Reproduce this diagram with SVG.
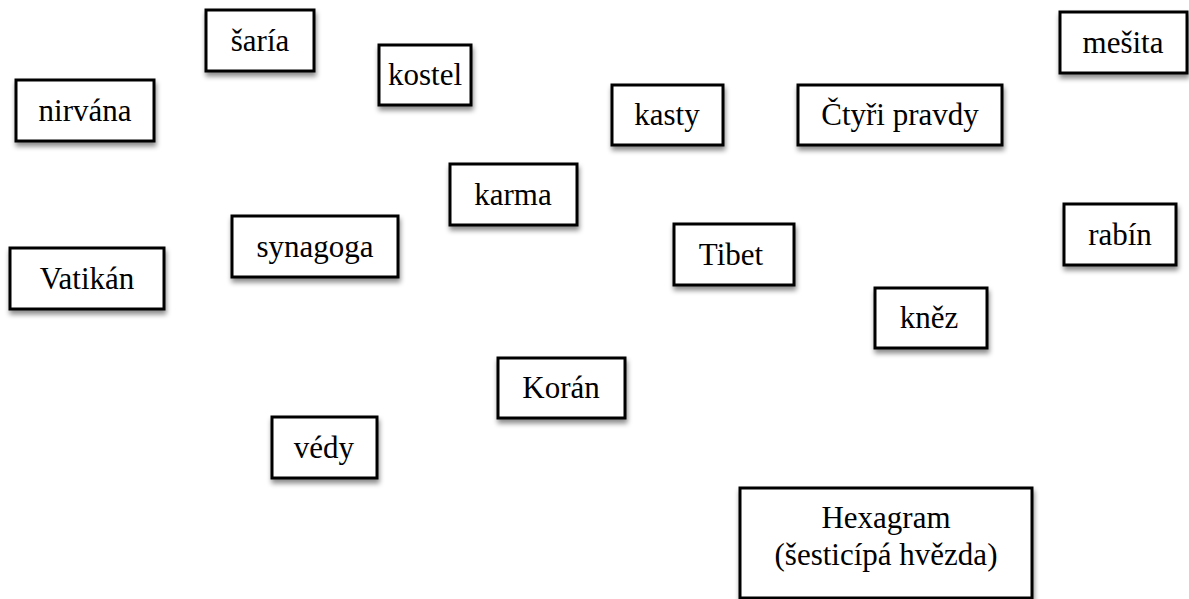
<svg xmlns="http://www.w3.org/2000/svg" width="1189" height="599" viewBox="0 0 1189 599">
<defs>
<filter id="sh" x="-20%" y="-20%" width="140%" height="150%">
<feDropShadow dx="1" dy="4" stdDeviation="2.5" flood-color="#000" flood-opacity="0.45"/>
</filter>
<style>
.b{fill:#fff;stroke:#000;stroke-width:3;filter:url(#sh)}
</style>
</defs>
<rect width="1189" height="599" fill="#fff"/>
<g id="connectors"></g>
<g id="saria"><rect class="b" x="206" y="10" width="108" height="61"/><text font-family="'Liberation Serif'" font-size="31" text-anchor="middle" x="260" y="51">šaría</text></g>
<g id="nirvana"><rect class="b" x="16" y="80" width="138" height="61"/><text font-family="'Liberation Serif'" font-size="31" text-anchor="middle" x="85" y="121">nirvána</text></g>
<g id="kostel"><rect class="b" x="379" y="45" width="92" height="60"/><text font-family="'Liberation Serif'" font-size="31" text-anchor="middle" x="425" y="85">kostel</text></g>
<g id="kasty"><rect class="b" x="612" y="85" width="111" height="60"/><text font-family="'Liberation Serif'" font-size="31" text-anchor="middle" x="667" y="125">kasty</text></g>
<g id="ctyri-pravdy"><rect class="b" x="798" y="85" width="204" height="60"/><text font-family="'Liberation Serif'" font-size="31" text-anchor="middle" x="900" y="125">Čtyři pravdy</text></g>
<g id="mesita"><rect class="b" x="1060" y="12" width="127" height="61"/><text font-family="'Liberation Serif'" font-size="31" text-anchor="middle" x="1123" y="53">mešita</text></g>
<g id="karma"><rect class="b" x="450" y="164" width="127" height="61"/><text font-family="'Liberation Serif'" font-size="31" text-anchor="middle" x="513" y="205">karma</text></g>
<g id="synagoga"><rect class="b" x="232" y="216" width="166" height="61"/><text font-family="'Liberation Serif'" font-size="31" text-anchor="middle" x="315" y="257">synagoga</text></g>
<g id="vatikan"><rect class="b" x="10" y="248" width="154" height="61"/><text font-family="'Liberation Serif'" font-size="31" text-anchor="middle" x="87" y="289">Vatikán</text></g>
<g id="tibet"><rect class="b" x="674" y="224" width="120" height="61"/><text font-family="'Liberation Serif'" font-size="31" text-anchor="middle" x="731" y="265">Tibet</text></g>
<g id="rabin"><rect class="b" x="1064" y="204" width="112" height="61"/><text font-family="'Liberation Serif'" font-size="31" text-anchor="middle" x="1120" y="245">rabín</text></g>
<g id="knez"><rect class="b" x="875" y="288" width="112" height="60"/><text font-family="'Liberation Serif'" font-size="31" text-anchor="middle" x="929" y="328">kněz</text></g>
<g id="koran"><rect class="b" x="498" y="358" width="127" height="60"/><text font-family="'Liberation Serif'" font-size="31" text-anchor="middle" x="561" y="398">Korán</text></g>
<g id="vedy"><rect class="b" x="272" y="417" width="105" height="61"/><text font-family="'Liberation Serif'" font-size="31" text-anchor="middle" x="324" y="458">védy</text></g>
<g id="hexagram"><rect class="b" x="740" y="488" width="292" height="110"/><text font-family="'Liberation Serif'" font-size="31" text-anchor="middle" x="886" y="528">Hexagram</text><text font-family="'Liberation Serif'" font-size="31" text-anchor="middle" x="886" y="565">(šesticípá hvězda)</text></g>
</svg>
